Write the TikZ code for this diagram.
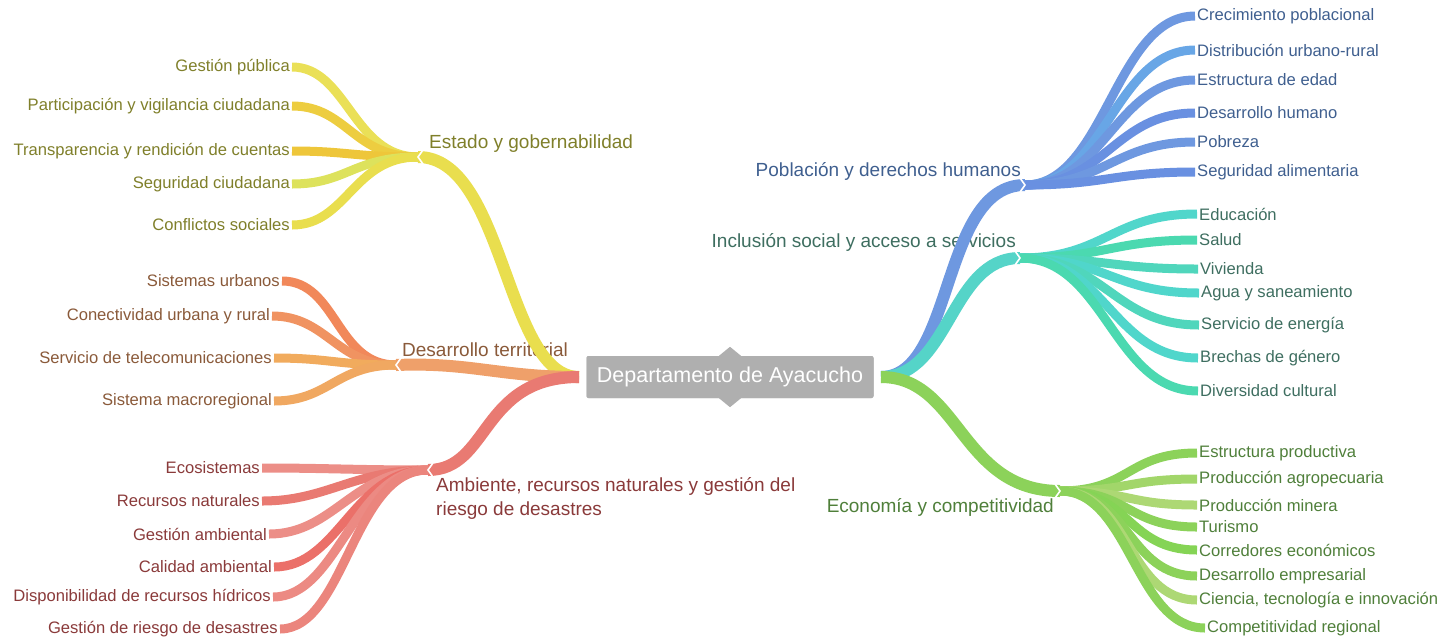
\documentclass[tikz,border=0pt]{standalone}
\usepackage{fontspec}
\setmainfont{Liberation Sans}
\usepackage{xcolor}

% branch colours
\definecolor{ayagray}{HTML}{AFAFAF}
\definecolor{estado}{HTML}{E9DE4E}
\definecolor{territ}{HTML}{EFA06A}
\definecolor{ambien}{HTML}{E97A72}
\definecolor{poblac}{HTML}{6E98E0}
\definecolor{inclus}{HTML}{55D4C8}
\definecolor{econom}{HTML}{8CD25A}
% a few twigs of their own
\definecolor{segCiu}{HTML}{DDE25C}
\definecolor{distUR}{HTML}{68A6E6}
\definecolor{prodAg}{HTML}{A2D66A}
\definecolor{prodMi}{HTML}{ADD874}
% text colours
\definecolor{txtE}{HTML}{7F7F2A}
\definecolor{txtT}{HTML}{8A5A3A}
\definecolor{txtA}{HTML}{8A3A3A}
\definecolor{txtP}{HTML}{3F5F8F}
\definecolor{txtI}{HTML}{3E6E60}
\definecolor{txtC}{HTML}{4F7F3A}

\begin{document}
\begin{tikzpicture}[x=1pt,y=-1pt,
   leafL/.style={anchor=east,inner sep=2pt,font=\fontsize{16.6}{18}\selectfont},
   leafR/.style={anchor=west,inner sep=2pt,font=\fontsize{16.6}{18}\selectfont},
   topic/.style={inner sep=0pt,font=\fontsize{19}{24}\selectfont},
   limb/.style={line width=12pt},
   twig/.style={line width=9pt},
   notch/.style={white,line width=1.6pt}]
   \useasboundingbox (0,0) rectangle (1445,641);

   % centre
   \node[fill=ayagray,text=white,rounded corners=2pt,minimum width=287pt,minimum height=42pt,
         inner sep=0pt,font=\fontsize{21.5}{24}\selectfont] (ayac) at (730,377) {Departamento de Ayacucho};
   \coordinate (cL) at (579,377);
   \coordinate (cR) at (881,377);

   % hubs
   \coordinate (hE) at (418,157);
   \coordinate (hT) at (396,365);
   \coordinate (hA) at (428,470);
   \coordinate (hP) at (1025,185);
   \coordinate (hI) at (1020,258);
   \coordinate (hC) at (1060,491);

   % topics
   \node[topic,anchor=west,text=txtE] (tE) at (429,144) {Estado y gobernabilidad};
   \node[topic,anchor=west,text=txtT] (tT) at (402,350) {Desarrollo territorial};
   \node[topic,anchor=west,text=txtA,align=left] (tA) at (436,498) {Ambiente, recursos naturales y gestión del\\riesgo de desastres};
   \node[topic,anchor=east,text=txtP] (tP) at (1021,171) {Población y derechos humanos};
   \node[topic,anchor=east,text=txtI] (tI) at (1016,242) {Inclusión social y acceso a servicios};
   \node[topic,anchor=east,text=txtC] (tC) at (1054,507) {Economía y competitividad};

   % Estado y gobernabilidad
   \node[leafL,text=txtE] (e1) at (292,67)  {Gestión pública};
   \node[leafL,text=txtE] (e2) at (292,106) {Participación y vigilancia ciudadana};
   \node[leafL,text=txtE] (e3) at (292,151) {Transparencia y rendición de cuentas};
   \node[leafL,text=txtE] (e4) at (292,184) {Seguridad ciudadana};
   \node[leafL,text=txtE] (e5) at (292,225) {Conflictos sociales};

   % Desarrollo territorial
   \node[leafL,text=txtT] (t1) at (282,281) {Sistemas urbanos};
   \node[leafL,text=txtT] (t2) at (272,316) {Conectividad urbana y rural};
   \node[leafL,text=txtT] (t3) at (274,358) {Servicio de telecomunicaciones};
   \node[leafL,text=txtT] (t4) at (274,401) {Sistema macroregional};

   % Ambiente
   \node[leafL,text=txtA] (a1) at (262,468) {Ecosistemas};
   \node[leafL,text=txtA] (a2) at (262,501) {Recursos naturales};
   \node[leafL,text=txtA] (a3) at (269,534) {Gestión ambiental};
   \node[leafL,text=txtA] (a4) at (274,567) {Calidad ambiental};
   \node[leafL,text=txtA] (a5) at (273,597) {Disponibilidad de recursos hídricos};
   \node[leafL,text=txtA] (a6) at (280,629) {Gestión de riesgo de desastres};

   % Poblacion
   \node[leafR,text=txtP] (p1) at (1195,16)  {Crecimiento poblacional};
   \node[leafR,text=txtP] (p2) at (1195,50)  {Distribución urbano-rural};
   \node[leafR,text=txtP] (p3) at (1195,80)  {Estructura de edad};
   \node[leafR,text=txtP] (p4) at (1195,113) {Desarrollo humano};
   \node[leafR,text=txtP] (p5) at (1195,142) {Pobreza};
   \node[leafR,text=txtP] (p6) at (1195,172) {Seguridad alimentaria};

   % Inclusion
   \node[leafR,text=txtI] (i1) at (1197,214) {Educación};
   \node[leafR,text=txtI] (i2) at (1197,240) {Salud};
   \node[leafR,text=txtI] (i3) at (1198,269) {Vivienda};
   \node[leafR,text=txtI] (i4) at (1199,293) {Agua y saneamiento};
   \node[leafR,text=txtI] (i5) at (1199,325) {Servicio de energía};
   \node[leafR,text=txtI] (i6) at (1198,358) {Brechas de género};
   \node[leafR,text=txtI] (i7) at (1198,391) {Diversidad cultural};

   % Economia
   \node[leafR,text=txtC] (c1) at (1197,453) {Estructura productiva};
   \node[leafR,text=txtC] (c2) at (1197,479) {Producción agropecuaria};
   \node[leafR,text=txtC] (c3) at (1197,505) {Producción minera};
   \node[leafR,text=txtC] (c4) at (1197,527) {Turismo};
   \node[leafR,text=txtC] (c5) at (1197,550) {Corredores económicos};
   \node[leafR,text=txtC] (c6) at (1197,576) {Desarrollo empresarial};
   \node[leafR,text=txtC] (c7) at (1197,600) {Ciencia, tecnología e innovación};
   \node[leafR,text=txtC] (c8) at (1205,628) {Competitividad regional};

   % limbs
   \draw[limb,estado] (cL) .. controls (505,377) and (505,157) .. (hE);
   \draw[limb,territ] (cL) .. controls (500,377) and (470,362) .. (hT);
   \draw[limb,ambien] (cL) .. controls (480,377) and (490,470) .. (hA);
   \draw[limb,poblac] (cR) .. controls (955,377) and (940,185) .. (hP);
   \draw[limb,inclus] (cR) .. controls (950,377) and (950,258) .. (hI);
   \draw[limb,econom] (cR) .. controls (960,377) and (960,491) .. (hC);

   % twigs
   \draw[twig,estado!95!white] (hE) .. controls +(-65,0) and +(55,0) .. (e1.east);
   \draw[twig,estado!82!orange] (hE) .. controls +(-65,0) and +(55,0) .. (e2.east);
   \draw[twig,estado!75!orange] (hE) .. controls +(-65,0) and +(55,0) .. (e3.east);
   \draw[twig,segCiu] (hE) .. controls +(-65,0) and +(55,0) .. (e4.east);
   \draw[twig,estado] (hE) .. controls +(-65,0) and +(55,0) .. (e5.east);

   \draw[twig,territ!85!red] (hT) .. controls +(-60,0) and +(55,0) .. (t1.east);
   \draw[twig,territ!92!red] (hT) .. controls +(-60,0) and +(55,0) .. (t2.east);
   \draw[twig,territ!88!yellow] (hT) .. controls +(-60,0) and +(55,0) .. (t3.east);
   \draw[twig,territ!92!yellow] (hT) .. controls +(-60,0) and +(55,0) .. (t4.east);

   \draw[twig,ambien!85!white] (hA) .. controls +(-75,0) and +(65,0) .. (a1.east);
   \draw[twig,ambien] (hA) .. controls +(-75,0) and +(65,0) .. (a2.east);
   \draw[twig,ambien!85!white] (hA) .. controls +(-75,0) and +(65,0) .. (a3.east);
   \draw[twig,ambien!92!red] (hA) .. controls +(-75,0) and +(65,0) .. (a4.east);
   \draw[twig,ambien!88!white] (hA) .. controls +(-75,0) and +(65,0) .. (a5.east);
   \draw[twig,ambien!92!white] (hA) .. controls +(-75,0) and +(65,0) .. (a6.east);

   \draw[twig,poblac] (hP) .. controls +(80,0) and +(-80,0) .. (p1.west);
   \draw[twig,distUR] (hP) .. controls +(80,0) and +(-80,0) .. (p2.west);
   \draw[twig,poblac] (hP) .. controls +(80,0) and +(-80,0) .. (p3.west);
   \draw[twig,poblac!95!blue] (hP) .. controls +(80,0) and +(-80,0) .. (p4.west);
   \draw[twig,poblac] (hP) .. controls +(80,0) and +(-80,0) .. (p5.west);
   \draw[twig,poblac!95!blue] (hP) .. controls +(80,0) and +(-80,0) .. (p6.west);

   \draw[twig,inclus!95!cyan] (hI) .. controls +(85,0) and +(-85,0) .. (i1.west);
   \draw[twig,inclus!88!green] (hI) .. controls +(85,0) and +(-85,0) .. (i2.west);
   \draw[twig,inclus!94!green] (hI) .. controls +(85,0) and +(-85,0) .. (i3.west);
   \draw[twig,inclus!94!cyan] (hI) .. controls +(85,0) and +(-85,0) .. (i4.west);
   \draw[twig,inclus!94!green] (hI) .. controls +(85,0) and +(-85,0) .. (i5.west);
   \draw[twig,inclus!94!cyan] (hI) .. controls +(85,0) and +(-85,0) .. (i6.west);
   \draw[twig,inclus!88!green] (hI) .. controls +(85,0) and +(-85,0) .. (i7.west);

   \draw[twig,econom] (hC) .. controls +(70,0) and +(-70,0) .. (c1.west);
   \draw[twig,prodAg] (hC) .. controls +(70,0) and +(-70,0) .. (c2.west);
   \draw[twig,prodMi] (hC) .. controls +(70,0) and +(-70,0) .. (c3.west);
   \draw[twig,econom] (hC) .. controls +(70,0) and +(-70,0) .. (c4.west);
   \draw[twig,econom!95!green] (hC) .. controls +(70,0) and +(-70,0) .. (c5.west);
   \draw[twig,econom] (hC) .. controls +(70,0) and +(-70,0) .. (c6.west);
   \draw[twig,prodMi] (hC) .. controls +(70,0) and +(-70,0) .. (c7.west);
   \draw[twig,econom] (hC) .. controls +(70,0) and +(-70,0) .. (c8.west);

   % notches at the hubs
   \draw[notch] ([shift={(5,-7)}]hE) -- (hE) -- ([shift={(5,7)}]hE);
   \draw[notch] ([shift={(5,-7)}]hT) -- (hT) -- ([shift={(5,7)}]hT);
   \draw[notch] ([shift={(5,-7)}]hA) -- (hA) -- ([shift={(5,7)}]hA);
   \draw[notch] ([shift={(-5,-7)}]hP) -- (hP) -- ([shift={(-5,7)}]hP);
   \draw[notch] ([shift={(-5,-7)}]hI) -- (hI) -- ([shift={(-5,7)}]hI);
   \draw[notch] ([shift={(-5,-7)}]hC) -- (hC) -- ([shift={(-5,7)}]hC);

   % centre drawn on top
   \node[fill=ayagray,text=white,rounded corners=2pt,minimum width=287pt,minimum height=42pt,
         inner sep=0pt,font=\fontsize{21.5}{24}\selectfont] at (ayac) {Departamento de Ayacucho};
   \fill[ayagray] ([xshift=-11pt]ayac.north) -- ++(11,-9) -- ++(11,9) -- cycle;
   \fill[ayagray] ([xshift=-11pt]ayac.south) -- ++(11,9) -- ++(11,-9) -- cycle;
\end{tikzpicture}
\end{document}
